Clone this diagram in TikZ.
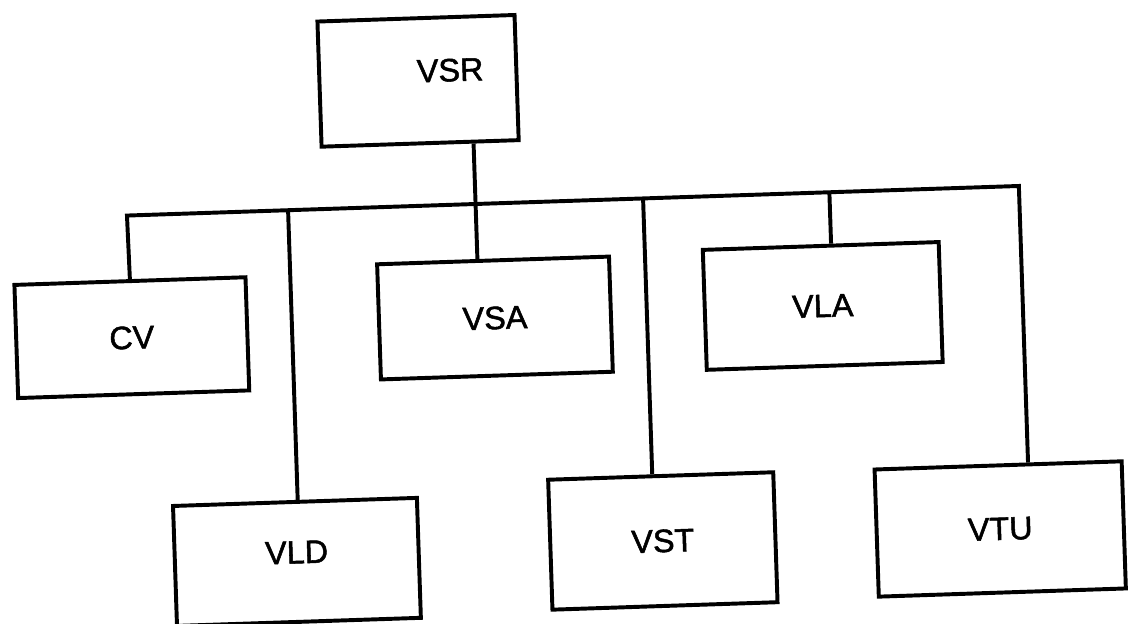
\documentclass[tikz,border=0pt]{standalone}
\usepackage{fontspec}
\setmainfont{Liberation Sans}
\newfontfamily\chartfont{Liberation Sans}[FakeBold=1.6]
\usepackage{tikz}

\begin{document}
\begin{tikzpicture}[
    font=\chartfont\fontsize{23}{27}\selectfont,
    unit/.style={draw, line width=2.8pt, inner sep=0pt},
    link/.style={line width=2.8pt}
]
\useasboundingbox (0,0) rectangle (28.4,15.6);
% the scanned chart sits slightly tilted
\begin{scope}[transform canvas={rotate around={1.9:(14.2,7.8)}}]
\node[unit, minimum width=4.93cm, minimum height=3.13cm] (vsr) at (10.645,13.70) {};
\node at ([xshift=0.81cm,yshift=0.24cm]vsr.center) {VSR};

\node[unit, minimum width=5.78cm, minimum height=2.83cm] (cv) at (3.28,7.52) {CV};
\node[unit, minimum width=5.8cm, minimum height=2.88cm] (vsa) at (12.37,7.71) {VSA};
\node[unit, minimum width=5.9cm, minimum height=3.0cm] (vla) at (20.57,7.74) {VLA};

\node[unit, minimum width=6.1cm, minimum height=3.0cm] (vld) at (7.22,1.78) {};
\node at ([yshift=0.24cm]vld.center) {VLD};
\node[unit, minimum width=5.63cm, minimum height=3.25cm] (vst) at (16.38,2.0) {VST};
\node[unit, minimum width=6.18cm, minimum height=3.18cm] (vtu) at (24.82,2.02) {VTU};

% bus
\coordinate (bcv) at (3.26,10.575);
\coordinate (bvld) at (7.29,10.575);
\coordinate (bvsa) at (11.98,10.575);
\coordinate (bvst) at (16.17,10.575);
\coordinate (bvla) at (20.83,10.575);
\coordinate (bvtu) at (25.57,10.575);
\draw[link] (cv.north) -- (bcv) -- (bvtu) -- (bvtu |- vtu.north);

\draw[link] (vsr.south -| bvsa) -- (bvsa);
\draw[link] (bvsa) -- (bvsa |- vsa.north);
\draw[link] (bvld) -- (bvld |- vld.north);
\draw[link] (bvst) -- (bvst |- vst.north);
\draw[link] (bvla) -- (bvla |- vla.north);
\end{scope}
\end{tikzpicture}
\end{document}
